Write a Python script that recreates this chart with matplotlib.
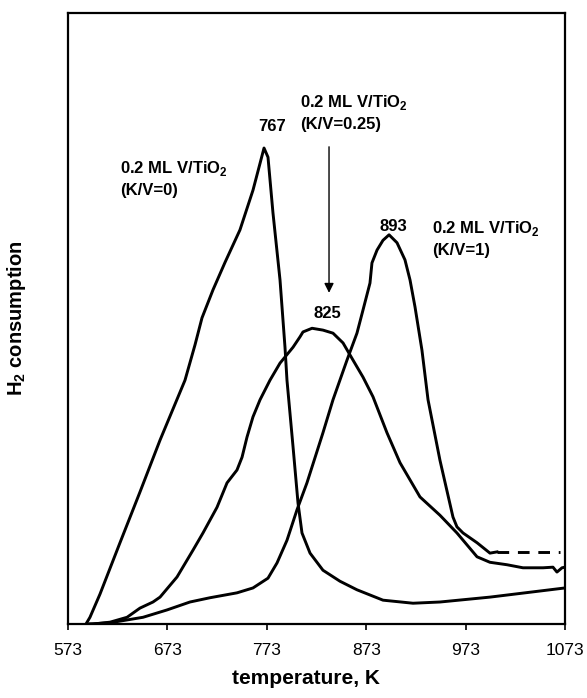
import matplotlib
matplotlib.use("Agg")
import matplotlib.pyplot as plt

plt.rcParams['font.family'] = ['Liberation Sans', 'DejaVu Sans']
plt.rcParams['mathtext.fontset'] = 'custom'
plt.rcParams['mathtext.rm'] = 'Liberation Sans'
plt.rcParams['mathtext.bf'] = 'Liberation Sans:bold'

# K/V = 0 (peak 767 K)
t_kv0 = [591.1, 595.1, 605.2, 625.3, 645.4, 665.6, 690.7, 700.8, 707.8, 718.9, 731.0, 746.0,
         759.1, 766.2, 770.2, 774.2, 779.2, 786.3, 791.3, 793.3, 799.4, 804.4, 808.4, 816.5,
         829.5, 846.6, 863.7, 889.9, 920.1, 947.2, 997.5, 1037.8, 1073.0]
h_kv0 = [0.0, 1.1, 4.9, 13.3, 21.6, 30.1, 39.9, 45.7, 50.1, 54.7, 59.2, 64.5,
         71.0, 75.4, 77.9, 76.4, 67.3, 56.3, 45.3, 39.9, 29.0, 19.8, 14.9, 11.6,
         8.8, 7.0, 5.6, 3.9, 3.4, 3.6, 4.4, 5.2, 5.9]

# K/V = 0.25 (peak 825 K)
t_kv025 = [593.1, 598.2, 615.3, 632.4, 645.4, 658.5, 665.6, 682.7, 698.8, 708.8, 722.9, 733.0,
           743.0, 748.1, 753.1, 759.1, 766.2, 776.2, 786.3, 799.4, 806.4, 809.4, 818.5, 829.5,
           839.6, 849.7, 859.7, 869.8, 879.8, 893.9, 907.0, 927.1, 947.2, 964.3, 984.5, 997.5,
           1014.6, 1030.7, 1050.9, 1060.9, 1064.9, 1070.0, 1073.0]
h_kv025 = [0.0, 0.0, 0.3, 1.1, 2.6, 3.6, 4.4, 7.7, 12.1, 14.9, 19.1, 23.1,
           25.2, 27.3, 30.6, 33.9, 36.7, 39.9, 42.7, 45.3, 47.0, 47.8, 48.4, 48.1,
           47.6, 46.0, 43.2, 40.4, 37.2, 31.3, 26.4, 20.8, 17.8, 14.9, 11.0, 10.1,
           9.7, 9.2, 9.2, 9.3, 8.5, 9.2, 9.3]

# K/V = 1 (peak 893 K)
t_kv1 = [595.1, 615.3, 648.5, 672.6, 695.7, 715.9, 743.0, 759.1, 774.2, 783.3, 793.3, 803.4,
         813.4, 829.5, 839.6, 853.7, 863.7, 869.8, 876.8, 878.8, 883.9, 889.9, 896.0, 904.0,
         912.0, 917.1, 922.1, 929.1, 935.2, 947.2, 960.3, 964.3, 970.4, 984.5, 997.5, 1004.6]
h_kv1 = [0.0, 0.2, 1.1, 2.3, 3.6, 4.3, 5.1, 5.9, 7.5, 10.0, 13.7, 18.7,
         23.1, 31.3, 36.7, 43.2, 47.6, 51.4, 55.8, 59.1, 61.2, 62.8, 63.7, 62.4,
         59.6, 56.3, 51.9, 44.8, 36.7, 26.8, 17.5, 15.9, 14.9, 13.3, 11.6, 11.8]
# dashed extrapolation of K/V = 1 baseline
t_kv1_dash = [1004.6, 1068.0]
h_kv1_dash = [11.8, 11.8]

xticks = [573, 673, 773, 873, 973, 1073]

fig = plt.figure(figsize=(5.87, 6.98), dpi=100)
ax = fig.add_axes([68/587, 1 - 624/698, (565-68)/587, (624-13)/698])

lw = 2.1
for t, h in [(t_kv0, h_kv0), (t_kv025, h_kv025), (t_kv1, h_kv1)]:
    ax.plot(t, h, color='black', lw=lw, solid_joinstyle='round')
ax.plot(t_kv1_dash, h_kv1_dash, color='black', lw=lw, dashes=(4, 3))

ax.set_xlim(573, 1073)
ax.set_ylim(0, 100)
ax.set_xticks(xticks)
ax.set_xticklabels([str(v) for v in xticks])
ax.set_yticks([])
ax.tick_params(axis='x', direction='out', length=4.5, width=1.2, labelsize=12.5, pad=9)
for s in ax.spines.values():
    s.set_linewidth(1.6)

ax.set_xlabel('temperature, K', fontsize=15, fontweight='bold')
ax.xaxis.set_label_coords(0.478, -0.074)
ax.set_ylabel(r'H$_\mathbf{2}$ consumption', fontsize=14.5, fontweight='bold')
ax.yaxis.set_label_coords(-0.08, 0.5)

fs = 12
lab = r'0.2 ML V/TiO$_\mathbf{2}$'
ax.text(778.2, 81.5, '767', fontsize=fs, fontweight='bold', ha='center', va='center')
ax.text(806.4, 85.4, lab, fontsize=fs, fontweight='bold', ha='left', va='center')
ax.text(806.4, 81.7, '(K/V=0.25)', fontsize=fs, fontweight='bold', ha='left', va='center')
ax.text(625.3, 74.5, lab, fontsize=fs, fontweight='bold', ha='left', va='center')
ax.text(625.3, 70.9, '(K/V=0)', fontsize=fs, fontweight='bold', ha='left', va='center')
ax.text(900.0, 65.1, '893', fontsize=fs, fontweight='bold', ha='center', va='center')
ax.text(939.2, 64.8, lab, fontsize=fs, fontweight='bold', ha='left', va='center')
ax.text(939.2, 61.2, '(K/V=1)', fontsize=fs, fontweight='bold', ha='left', va='center')
ax.text(833.6, 50.9, '825', fontsize=fs, fontweight='bold', ha='center', va='center')

ax.annotate('', xy=(835.6, 54.2), xytext=(835.6, 78.1),
            arrowprops=dict(arrowstyle='-|>', color='black', lw=1.0,
                            mutation_scale=14, shrinkA=0, shrinkB=0))

fig.savefig('out.png', dpi=100)
